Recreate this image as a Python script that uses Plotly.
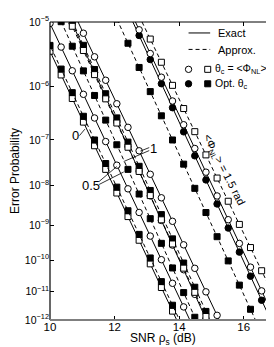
import math
from statistics import NormalDist
import plotly.graph_objects as go

# ---------------- data ----------------
# SNR (dB) grid on which the markers sit
SNR_GRID = [10.0, 10.345, 10.69, 11.035, 11.38, 11.725, 12.07, 12.415, 12.76, 13.105,
            13.45, 13.795, 14.14, 14.485, 14.83, 15.175, 15.52, 15.865, 16.21, 16.555, 16.9]

# SNR (dB) at which each curve crosses P = 1e-5 and P = 1e-12
snr_top = {"L1o": 9.573, "L1f": 9.658, "L2": 9.979, "L3": 10.351, "L7": 10.672,
           "L4": 10.702, "L5": 10.629, "L6": 10.870,
           "R1": 12.112, "R3": 12.567, "R2": 12.647, "R4": 12.851}
snr_bot = {"L1o": 13.925, "L1f": 14.010, "L2": 14.331, "L3": 14.524, "L7": 14.844,
           "L4": 14.953, "L5": 14.879, "L6": 15.243,
           "R1": 16.363, "R3": 16.838, "R2": 16.978, "R4": 17.288}
# index of the first marker of each curve in SNR_GRID
first_marker = {"L1o": 0, "L1f": 0, "L2": 0, "L3": 1, "L7": 2, "L4": 2, "L5": 2, "L6": 3,
                "R1": 6, "R3": 8, "R2": 8, "R4": 9}

# error probabilities at the markers
p_L1o = [3.74e-06, 1.57e-06, 6.19e-07, 2.26e-07, 7.61e-08, 2.35e-08, 6.6e-09, 1.68e-09,
         3.81e-10, 7.69e-11, 1.36e-11, 2.1e-12]
p_L1f = [4.59e-06, 1.96e-06, 7.85e-07, 2.92e-07, 1e-07, 3.17e-08, 9.13e-09, 2.38e-09,
         5.56e-10, 1.16e-10, 2.12e-11, 3.39e-12]
p_L2 = [9.54e-06, 4.33e-06, 1.84e-06, 7.34e-07, 2.71e-07, 9.28e-08, 2.91e-08, 8.32e-09,
        2.15e-09, 4.99e-10, 1.03e-10, 1.87e-11, 2.96e-12]
p_L3 = [1.01e-05, 4.46e-06, 1.83e-06, 7e-07, 2.47e-07, 7.97e-08, 2.35e-08, 6.23e-09,
        1.48e-09, 3.11e-10, 5.75e-11, 9.21e-12, 1.26e-12]
p_L7 = [9.59e-06, 4.2e-06, 1.72e-06, 6.52e-07, 2.28e-07, 7.33e-08, 2.14e-08, 5.64e-09,
        1.33e-09, 2.77e-10, 5.07e-11, 8.04e-12, 1.09e-12]
p_L4 = [1.03e-05, 4.6e-06, 1.93e-06, 7.52e-07, 2.72e-07, 9.05e-08, 2.75e-08, 7.6e-09,
        1.89e-09, 4.17e-10, 8.15e-11, 1.39e-11, 2.05e-12]
p_L5 = [8.71e-06, 3.84e-06, 1.59e-06, 6.1e-07, 2.17e-07, 7.09e-08, 2.11e-08, 5.71e-09,
        1.38e-09, 2.98e-10, 5.67e-11, 9.39e-12, 1.34e-12]
p_L6 = [6.93e-06, 3.07e-06, 1.28e-06, 4.98e-07, 1.79e-07, 5.96e-08, 1.82e-08, 5.04e-09,
        1.26e-09, 2.82e-10, 5.6e-11, 9.76e-12, 1.48e-12]
p_R1 = [1.1e-05, 4.94e-06, 2.08e-06, 8.19e-07, 2.98e-07, 1e-07, 3.07e-08, 8.54e-09,
        2.14e-09, 4.79e-10, 9.46e-11, 1.63e-11, 2.44e-12]
p_R3 = [6.43e-06, 2.78e-06, 1.12e-06, 4.22e-07, 1.46e-07, 4.66e-08, 1.35e-08, 3.54e-09,
        8.3e-10, 1.73e-10, 3.17e-11, 5.05e-12]
p_R2 = [7.76e-06, 3.45e-06, 1.44e-06, 5.58e-07, 2.01e-07, 6.67e-08, 2.03e-08, 5.59e-09,
        1.39e-09, 3.09e-10, 6.09e-11, 1.05e-11, 1.57e-12]
p_R4 = [5.7e-06, 2.52e-06, 1.05e-06, 4.07e-07, 1.47e-07, 4.88e-08, 1.49e-08, 4.14e-09,
        1.04e-09, 2.35e-10, 4.71e-11, 8.31e-12]

P_TOP, P_BOT = 1e-5, 1e-12
Y_TICK_EXP = [5, 6, 7, 8, 9, 10, 11, 12]
X_TICKS = [10, 12, 14, 16]

marker_p = {"L1o": p_L1o, "L1f": p_L1f, "L2": p_L2, "L3": p_L3, "L7": p_L7, "L4": p_L4,
            "L5": p_L5, "L6": p_L6, "R1": p_R1, "R3": p_R3, "R2": p_R2, "R4": p_R4}

# ---------------- styles ----------------
style = {  # (dash, symbol)
    "L1o": ("solid", "square-open"), "L1f": ("dash", "square"),
    "L2": ("solid", "circle-open"), "L3": ("dash", "square"),
    "L7": ("solid", "circle-open"), "L4": ("dash", "square"),
    "L5": ("dash", "square-open"), "L6": ("solid", "circle-open"),
    "R1": ("dash", "square"), "R3": ("solid", "circle"),
    "R2": ("solid", "circle-open"), "R4": ("dash", "square-open"),
}
ORDER = ["L1o", "L1f", "L2", "L3", "L7", "L4", "L5", "L6", "R1", "R3", "R2", "R4"]

ND = NormalDist()


def yt(p):
    """probability-paper scale: log10 of the inverse Q function"""
    return math.log10(-ND.inv_cdf(p))


fig = go.Figure()
for name in ORDER:
    k0 = first_marker[name]
    ps = marker_p[name]
    xs = SNR_GRID[k0:k0 + len(ps)]
    pts = sorted([(snr_top[name], P_TOP)] + list(zip(xs, ps)) + [(snr_bot[name], P_BOT)])
    dash, sym = style[name]
    dashstr = "solid" if dash == "solid" else "4px,3px"
    fig.add_trace(go.Scatter(
        x=[p[0] for p in pts], y=[yt(p[1]) for p in pts], mode="lines",
        line=dict(color="black", width=1, dash=dashstr), hoverinfo="skip",
        showlegend=False))
    open_ = sym.endswith("open")
    fig.add_trace(go.Scatter(
        x=xs, y=[yt(p) for p in ps], mode="markers",
        marker=dict(symbol=sym.replace("-open", ""), size=6.5 if "circle" in sym else 6,
                    color="white" if open_ else "black",
                    line=dict(color="black", width=1)),
        hoverinfo="skip", showlegend=False))

FONT = "Liberation Sans, Arial, Helvetica, sans-serif"
L, R, T, B = 38, 6, 13, 35
W, H = 274, 347
PW, PH = W - L - R, H - T - B


def px(x):
    return (x - L) / PW


def py(y):
    return (H - B - y) / PH


shapes = [
    dict(type="line", xref="paper", yref="paper", x0=0, x1=1, y0=1, y1=1,
         line=dict(color="black", width=1)),
    dict(type="line", xref="paper", yref="paper", x0=0, x1=0, y0=0, y1=1,
         line=dict(color="black", width=1.2)),
    dict(type="line", xref="paper", yref="paper", x0=1, x1=1, y0=0, y1=1,
         line=dict(color="#7f7f7f", width=1.5)),
    dict(type="line", xref="paper", yref="paper", x0=0, x1=1, y0=0, y1=0,
         line=dict(color="#7f7f7f", width=2)),
]
# leader lines of the <Phi_NL> labels
for (x0, y0, x1, y1) in [(68, 127, 73.5, 120.5),
                         (88, 173, 106, 158), (88, 176, 113, 163.5),
                         (139, 139, 130, 142.5), (139, 142, 113, 153)]:
    shapes.append(dict(type="line", xref="paper", yref="paper",
                       x0=px(x0), y0=py(y0), x1=px(x1), y1=py(y1),
                       line=dict(color="black", width=0.8)))
# legend samples
shapes.append(dict(type="line", xref="paper", yref="paper", x0=px(179), x1=px(201),
                   y0=py(24), y1=py(24), line=dict(color="black", width=1)))
shapes.append(dict(type="line", xref="paper", yref="paper", x0=px(179), x1=px(201),
                   y0=py(40.5), y1=py(40.5), line=dict(color="black", width=1, dash="4px,3px")))
for (cx, cy, kind, filled) in [(179, 60.5, "circle", False), (198.5, 60.5, "rect", False),
                               (179, 75, "circle", True), (198.5, 75, "rect", True)]:
    s = 3.2 if kind == "circle" else 3.0
    shapes.append(dict(type=kind, xref="paper", yref="paper", xsizemode="pixel",
                       ysizemode="pixel", xanchor=px(cx), yanchor=py(cy),
                       x0=-s, x1=s, y0=-s, y1=s, line=dict(color="black", width=1),
                       fillcolor="black" if filled else "white"))

ann = []


def text(x, y, t, size=10, xanchor="center", angle=0):
    ann.append(dict(x=px(x), y=py(y), xref="paper", yref="paper", text=t, showarrow=False,
                    xanchor=xanchor, yanchor="middle", textangle=angle,
                    font=dict(family=FONT, size=size, color="black")))


text(64, 127, "0", 13)
text(80, 177, "0.5", 13)
text(143, 140, "1", 13)
text(215, 161, "&lt;Φ<sub>NL</sub>&gt; = 1.5 rad", 11, angle=63)
text(207, 24.5, "Exact", 11, xanchor="left")
text(207, 41, "Approx.", 11, xanchor="left")
text(204, 60, "θ<sub>c</sub> = &lt;Φ<sub>NL</sub>&gt;", 10.5, xanchor="left")
text(204, 75.5, "Opt. θ<sub>c</sub>", 10.5, xanchor="left")
text(153, 331, "SNR ρ<sub>s</sub> (dB)", 12)

fig.update_layout(
    width=W, height=H, margin=dict(l=L, r=R, t=T, b=B),
    paper_bgcolor="white", plot_bgcolor="white",
    font=dict(family=FONT, size=11, color="black"),
    showlegend=False, shapes=shapes, annotations=ann,
    xaxis=dict(range=[10, 17], tickvals=X_TICKS, ticktext=[str(v) for v in X_TICKS],
               ticks="inside", ticklen=4, tickcolor="black", mirror="ticks",
               showline=False, showgrid=False, zeroline=False,
               ticklabelstandoff=-2, tickfont=dict(size=11.5)),
    yaxis=dict(range=[yt(P_BOT), yt(P_TOP)],
               tickvals=[yt(10.0 ** -e) for e in Y_TICK_EXP],
               ticktext=["10<sup>−%d</sup>" % e for e in Y_TICK_EXP],
               ticks="inside", ticklen=4, tickcolor="black", mirror="ticks",
               showline=False, showgrid=False, zeroline=False,
               tickfont=dict(size=10.5),
               title=dict(text="Error Probability", font=dict(size=12), standoff=2)),
)

fig.write_html("out.html")
